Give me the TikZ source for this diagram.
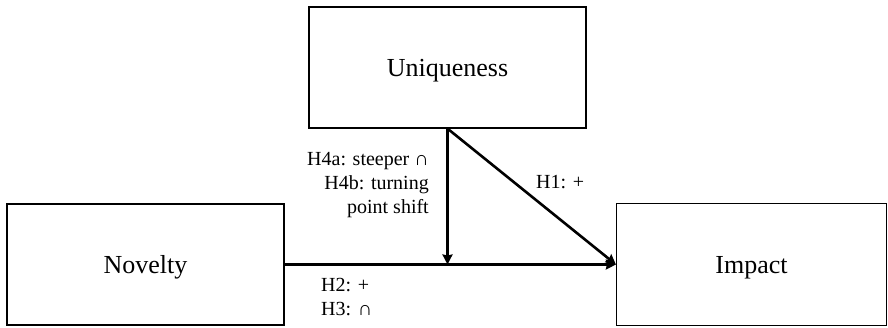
\documentclass[tikz,border=0pt]{standalone}
\usepackage{fontspec}
\setmainfont{Liberation Serif}
\usetikzlibrary{arrows.meta}
\begin{document}
\begin{tikzpicture}[x=1pt,y=-1pt,
  box/.style={draw, line width=1.2pt, rectangle, inner sep=0pt, text height=18pt, text depth=0pt, font=\fontsize{26}{31}\selectfont},
  arr/.style={line width=2.6pt, -{Stealth[length=10pt,width=10pt,inset=1pt]}},
  lbl/.style={inner sep=0pt, font=\fontsize{20}{24}\selectfont}]
\useasboundingbox (0,0) rectangle (888,327);
\node[box, minimum width=277pt, minimum height=121pt] (uniq) at (447.5,67.5) {Uniqueness};
\node[box, minimum width=277pt, minimum height=121pt] (nov) at (145.5,264.5) {Novelty};
\node[box, minimum width=270pt, minimum height=122pt] (imp) at (751.5,264.5) {Impact};
\coordinate (m) at (uniq.south |- nov.east);
\draw[arr] (nov.east) -- (imp.west);
\draw[arr] (uniq.south) -- (m);
\draw[arr] (uniq.south) -- (imp.west);
\node[lbl, anchor=east, align=right] (h4) at (429,185) {H4a: steeper ∩\\H4b: turning\\point shift};
\node[lbl, anchor=west] (h1) at (536,182) {H1: +};
\node[lbl, anchor=west, align=left] (h23) at (321,297) {H2: +\\H3: ∩};
\end{tikzpicture}
\end{document}
